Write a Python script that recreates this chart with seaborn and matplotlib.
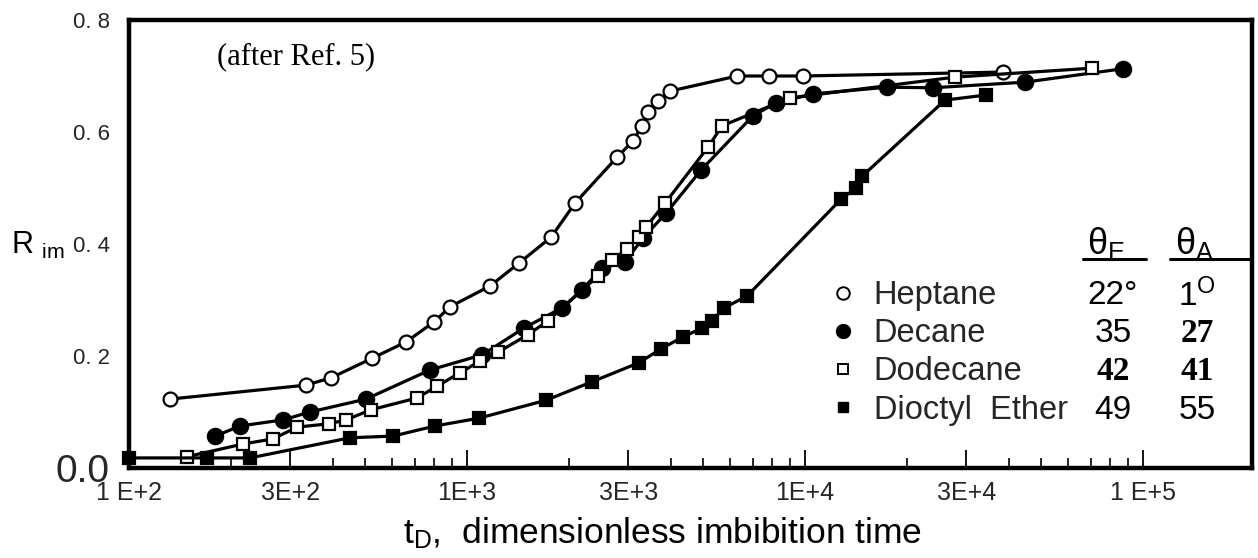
import matplotlib
matplotlib.use("Agg")
import matplotlib.pyplot as plt
import seaborn as sns
import pandas as pd
from matplotlib.ticker import FixedLocator, FixedFormatter, NullFormatter
from matplotlib.lines import Line2D
from matplotlib import font_manager

# ---- data: recovery vs dimensionless imbibition time ----
heptane_t = [132, 334, 396, 524, 660, 799, 891, 1170, 1425, 1772, 2087, 2779,
             3097, 3294, 3431, 3674, 3987, 6295, 7826, 9865, 38540]
heptane_r = [0.123, 0.148, 0.161, 0.196, 0.225, 0.261, 0.288, 0.325, 0.366,
             0.412, 0.473, 0.555, 0.584, 0.611, 0.636, 0.655, 0.673, 0.700,
             0.700, 0.700, 0.707]

decane_t = [180, 213, 286, 343, 502, 777, 1108, 1474, 1910, 2188, 2508, 2935,
            3317, 3880, 4924, 7016, 8207, 10560, 17480, 23920, 44770, 87300]
decane_r = [0.057, 0.075, 0.086, 0.100, 0.123, 0.175, 0.202, 0.250, 0.286,
            0.318, 0.357, 0.368, 0.411, 0.455, 0.532, 0.629, 0.652, 0.668,
            0.680, 0.679, 0.689, 0.713]

dodecane_t = [148, 218, 267, 314, 391, 439, 520, 711, 815, 953, 1093, 1236,
              1515, 1736, 2442, 2685, 2974, 3227, 3385, 3853, 5165, 5681,
              9030, 27790, 70650]
dodecane_r = [0.020, 0.043, 0.052, 0.073, 0.079, 0.086, 0.104, 0.125, 0.146,
              0.170, 0.191, 0.207, 0.238, 0.263, 0.343, 0.371, 0.391, 0.413,
              0.430, 0.473, 0.573, 0.611, 0.661, 0.698, 0.714]

dioctyl_t = [100, 170, 228, 451, 604, 804, 1085, 1713, 2343, 3227, 3750, 4356,
             4958, 5307, 5758, 6734, 12780, 14160, 14750, 25950, 34310]
dioctyl_r = [0.018, 0.018, 0.018, 0.054, 0.057, 0.075, 0.089, 0.121, 0.154,
             0.188, 0.213, 0.234, 0.250, 0.263, 0.286, 0.307, 0.480, 0.500,
             0.521, 0.657, 0.666]

liquids = ["Heptane", "Decane", "Dodecane", "Dioctyl  Ether"]
theta_e = ["22°", "35", "42", "49"]
theta_a = ["1$^{\\mathregular{O}}$", "27", "41", "55"]
theta_e_bold = [False, False, True, False]
theta_a_bold = [False, True, True, False]

x_ticks = [1e2, 3e2, 1e3, 3e3, 1e4, 3e4, 1e5]
x_tick_labels = ["1 E+2", "3E+2", "1E+3", "3E+3", "1E+4", "3E+4", "1 E+5"]
y_ticks = [0.0, 0.2, 0.4, 0.6, 0.8]
y_tick_labels = ["0.0", "0. 2", "0. 4", "0. 6", "0. 8"]

# ---- styling ----
sns.set_theme(style="white")
plt.rcParams["font.family"] = ["Liberation Sans", "DejaVu Sans"]
plt.rcParams["mathtext.fontset"] = "custom"
plt.rcParams["mathtext.rm"] = "Liberation Sans"
plt.rcParams["mathtext.it"] = "Liberation Sans:italic"
plt.rcParams["mathtext.bf"] = "Liberation Sans:bold"

installed = {f.name for f in font_manager.fontManager.ttflist}
narrow = "Liberation Sans Narrow" if "Liberation Sans Narrow" in installed else "Liberation Sans"

W, H = 1258, 558
fig = plt.figure(figsize=(W / 100, H / 100), dpi=100)
fig.patch.set_facecolor("white")
ax = fig.add_axes([129 / W, 90 / H, 1123 / W, 448 / H])
ax.set_facecolor("white")

series = [
    (heptane_t, heptane_r, dict(marker="o", markerfacecolor="white", markersize=10)),
    (decane_t, decane_r, dict(marker="o", markerfacecolor="black", markersize=11)),
    (dodecane_t, dodecane_r, dict(marker="s", markerfacecolor="white", markersize=8.5)),
    (dioctyl_t, dioctyl_r, dict(marker="s", markerfacecolor="black", markersize=8.5)),
]
for t, r, style in series:
    df = pd.DataFrame({"t": t, "r": r})
    sns.lineplot(data=df, x="t", y="r", ax=ax, color="black", lw=2.3,
                 estimator=None, sort=False, markeredgecolor="black",
                 markeredgewidth=1.6, clip_on=False, **style)

ax.set_xscale("log")
ax.set_xlim(100, 2.1e5)
ax.set_ylim(0, 0.8)

ax.xaxis.set_major_locator(FixedLocator(x_ticks))
ax.xaxis.set_major_formatter(FixedFormatter(x_tick_labels))
minor = [m * d for d in (1e2, 1e3, 1e4) for m in (2, 4, 5, 6, 7, 8, 9)]
ax.xaxis.set_minor_locator(FixedLocator(minor))
ax.xaxis.set_minor_formatter(NullFormatter())
ax.tick_params(axis="x", which="major", direction="in", length=13, width=1.3,
               color="black", pad=9, labelsize=18, bottom=True, top=False)
ax.tick_params(axis="x", which="minor", direction="in", length=7, width=1.2,
               color="black", bottom=True, top=False)

ax.yaxis.set_major_locator(FixedLocator(y_ticks))
ax.yaxis.set_major_formatter(FixedFormatter(y_tick_labels))
ax.tick_params(axis="y", which="both", length=0, pad=14, labelsize=16)
for lab in ax.get_yticklabels():
    lab.set_family(narrow)
    if lab.get_text() == "0.0":
        lab.set_fontsize(28)

for s in ax.spines.values():
    s.set_visible(True)
    s.set_color("black")
    s.set_linewidth(3.2)

ax.set_xlabel("t$_{\\mathregular{D}}$,  dimensionless imbibition time",
              fontsize=25.5, color="black")
ax.xaxis.set_label_coords((662 - 129) / 1123, (468 - 533) / 448)
ax.xaxis.label.set_va("center")

ax.set_ylabel("R $_{\\mathregular{im}}$", fontsize=22, rotation=0,
              ha="left", va="center", color="black")
ax.yaxis.set_label_coords((11 - 129) / 1123, (468 - 245) / 448)

ax.text((217 - 129) / 1123, (468 - 57) / 448, "(after Ref. 5)",
        transform=ax.transAxes, ha="left", va="center", fontsize=22,
        family="Liberation Serif", color="black")

# legend for the four liquids
handles = [
    Line2D([], [], ls="none", marker="o", markersize=9, markerfacecolor="white",
           markeredgecolor="black", markeredgewidth=1.4),
    Line2D([], [], ls="none", marker="o", markersize=10, markerfacecolor="black",
           markeredgecolor="black"),
    Line2D([], [], ls="none", marker="s", markersize=7.5, markerfacecolor="white",
           markeredgecolor="black", markeredgewidth=1.4),
    Line2D([], [], ls="none", marker="s", markersize=7.5, markerfacecolor="black",
           markeredgecolor="black"),
]
leg = ax.legend(handles, liquids, loc="upper left",
                bbox_to_anchor=((828 - 129) / 1123, (468 - 280) / 448),
                frameon=False, fontsize=23.5, handlelength=0.9,
                handletextpad=0.5, labelspacing=0.22, borderpad=0,
                borderaxespad=0)

fig.canvas.draw()
inv = ax.transAxes.inverted()
rows_y = []
for txt in leg.get_texts():
    bb = txt.get_window_extent()
    rows_y.append(inv.transform((0, (bb.y0 + bb.y1) / 2))[1])

col_e = (1113 - 129) / 1123
col_a = (1197 - 129) / 1123
for y, te, ta, be, ba in zip(rows_y, theta_e, theta_a, theta_e_bold, theta_a_bold):
    ax.text(col_e, y, te, transform=ax.transAxes, ha="center", va="center",
            fontsize=24, color="black",
            family="Liberation Serif" if be else "Liberation Sans",
            fontweight="bold" if be else "normal")
    ax.text(col_a, y, ta, transform=ax.transAxes, ha="center", va="center",
            fontsize=24, color="black",
            family="Liberation Serif" if ba else "Liberation Sans",
            fontweight="bold" if ba else "normal")

# column headers with underlines
ax.text((1106 - 129) / 1123, (468 - 243) / 448, "θ$_{\\mathregular{E}}$",
        transform=ax.transAxes, ha="center", va="center", fontsize=26,
        color="black")
ax.text((1195 - 129) / 1123, (468 - 243) / 448, "θ$_{\\mathregular{A}}$",
        transform=ax.transAxes, ha="center", va="center", fontsize=26,
        color="black")
uy = (468 - 259) / 448
ax.add_line(Line2D([(1083 - 129) / 1123, (1146 - 129) / 1123], [uy, uy],
                   transform=ax.transAxes, color="black", lw=2.2))
ax.add_line(Line2D([(1170 - 129) / 1123, 1.0], [uy, uy],
                   transform=ax.transAxes, color="black", lw=2.2))

fig.savefig("out.png", dpi=100, facecolor="white")
